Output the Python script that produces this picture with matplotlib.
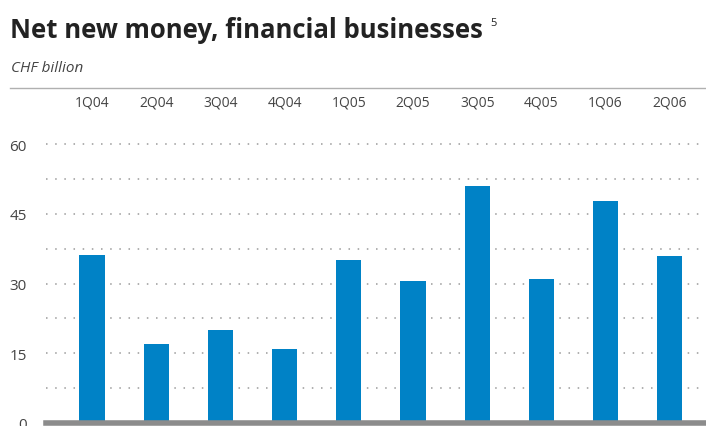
import matplotlib.pyplot as plt
from matplotlib.lines import Line2D

quarters = ["1Q04", "2Q04", "3Q04", "4Q04", "1Q05", "2Q05", "3Q05", "4Q05", "1Q06", "2Q06"]
net_new_money = [36.2, 16.9, 20.1, 15.9, 35.1, 30.6, 51.0, 30.9, 47.8, 36.0]
y_ticks = [0, 15, 30, 45, 60]

plt.rcParams['font.family'] = ['Open Sans', 'DejaVu Sans']

fig = plt.figure(figsize=(7.06, 4.27), dpi=100)
ax = fig.add_axes([46 / 706, 3 / 427, 660 / 706, 279 / 427])

x = range(len(quarters))
ax.bar(x, net_new_money, width=0.39, color="#0082c6", zorder=3)
ax.set_xlim(-0.7165, 9.564)
ax.set_ylim(0, 60)

# dotted guides every 7.5, labels only on the 15s
for v in [7.5 * i for i in range(1, 9)]:
    ax.axhline(v, color="#9a9a9a", lw=1.1, ls=(0, (1, 5)), zorder=1, clip_on=False)
ax.set_yticks(y_ticks)
ax.set_yticklabels([str(t) for t in y_ticks], fontsize=11, color="#444444")
ax.tick_params(axis="y", length=0, pad=14)
ax.set_xticks([])

for s in ax.spines.values():
    s.set_visible(False)
ax.axhline(0, color="#8c8c8c", lw=4, zorder=4, clip_on=False)

# quarter labels sit above the plot
for i, q in enumerate(quarters):
    ax.text(i, 69, q, ha="center", va="center", fontsize=10, color="#444444", clip_on=False)

fig.text(10 / 706, 1 - 31 / 427, "Net new money, financial businesses", fontsize=18.5,
         fontweight="bold", color="#222222", va="center")
fig.text(490 / 706, 1 - 24 / 427, "5", fontsize=8, color="#222222", va="center")
fig.text(11 / 706, 1 - 68 / 427, "CHF billion", fontsize=11, style="italic",
         color="#444444", va="center")
fig.add_artist(Line2D([10 / 706, 1], [1 - 89 / 427] * 2, color="#b0b0b0", lw=1))

fig.savefig("out.png", dpi=100)
